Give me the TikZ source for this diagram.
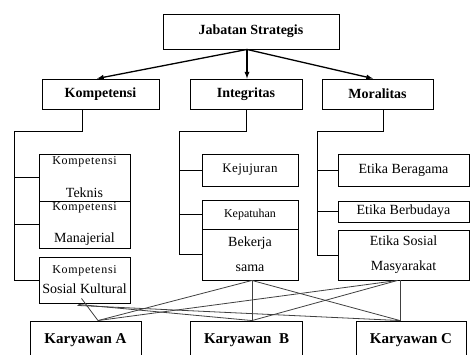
\documentclass[tikz,border=0pt]{standalone}
\usepackage{fontspec}
\setmainfont{Liberation Serif}
\newcommand\spkomp{{\addfontfeatures{LetterSpace=6}\fontsize{12}{14}\selectfont Kompetensi}}
\begin{document}
\begin{tikzpicture}[x=1pt,y=-1pt,>=latex,line width=0.9pt,
    box/.style={draw, inner sep=0pt, align=center, font=\fontsize{14}{25}\selectfont},
    head/.style={draw, inner sep=0pt, font=\bfseries\fontsize{14}{16}\selectfont},
    staff/.style={draw, inner sep=0pt, font=\bfseries\fontsize{15}{17}\selectfont},
    cross/.style={line width=0.8pt, black!75}]
\clip (0,0) rectangle (471,354);
% top
\node[head, minimum width=176pt, minimum height=35pt] (js) at (251,31.5) {Jabatan Strategis};
\node[head, minimum width=117pt, minimum height=30pt] (komp) at (100.5,94) {Kompetensi};
\node[head, minimum width=112pt, minimum height=30pt] (integ) at (246,94) {Integritas};
\node[head, minimum width=111pt, minimum height=30pt] (moral) at (377.5,94) {Moralitas};
\coordinate (top) at ([xshift=-4pt]js.south);
\draw[->, line width=1.3pt] (top) -- ([xshift=-3.5pt]komp.north);
\draw[->, line width=1.3pt] (top) -- ([xshift=1pt]integ.north);
\draw[->, line width=1.3pt] (top) -- ([xshift=-4.5pt]moral.north);
% kompetensi
\node[box, minimum width=91pt, minimum height=47pt] (teknis) at (84.5,177.5) {\spkomp\\[8pt]Teknis};
\node[box, minimum width=91pt, minimum height=47pt] (manaj) at (84.5,224.5) {\spkomp\\[7pt]Manajerial};
\node[box, minimum width=91pt, minimum height=46pt] (sosial) at (84.5,280) {\spkomp\\[-5pt]Sosial Kultural};
\coordinate (kl) at (14,131);
\draw ([xshift=-18.5pt]komp.south) |- (kl) |- (sosial.west);
\draw (kl |- teknis.west) -- (teknis.west);
\draw (kl |- manaj.west) -- (manaj.west);
% integritas
\node[box, minimum width=96pt, minimum height=32pt] (jujur) at (250,170) {{\addfontfeatures{LetterSpace=3}\fontsize{13}{15}\selectfont Kejujuran}};
\node[box, minimum width=96pt, minimum height=29pt, font=\fontsize{12}{14}\selectfont] (patuh) at (250,214.5) {\raisebox{3pt}{Kepatuhan}};
\node[box, minimum width=96pt, minimum height=51pt] (kerja) at (250,254.5) {Bekerja\\sama};
\coordinate (il) at (179,131);
\draw (integ.south) |- (il) |- (kerja.west);
\draw (il |- jujur.west) -- (jujur.west);
\draw (il |- patuh.west) -- (patuh.west);
% moralitas
\node[box, minimum width=131pt, minimum height=32pt] (agama) at (403.5,170) {Etika Beragama};
\node[box, minimum width=131pt, minimum height=21pt] (budaya) at (403.5,211.5) {Etika Berbudaya};
\node[box, minimum width=131pt, minimum height=50pt] (masy) at (403.5,255) {Etika Sosial\\Masyarakat};
\coordinate (ml) at (317,131);
\draw ([xshift=5.5pt]moral.south) |- (ml) |- (masy.west);
\draw (ml |- agama.west) -- (agama.west);
\draw (ml |- budaya.west) -- (budaya.west);
% karyawan
\node[staff, minimum width=111pt, minimum height=38pt] (ka) at (85.5,340) {Karyawan A};
\node[staff, minimum width=112pt, minimum height=38pt] (kb) at (246.5,340) {Karyawan\ \ B};
\node[staff, minimum width=110pt, minimum height=38pt] (kc) at (411,340) {Karyawan C};
\coordinate (sa) at ([xshift=12.5pt]ka.north);
\coordinate (sb) at ([xshift=5.5pt]kb.north);
\coordinate (sc) at ([xshift=-11pt]kc.north);
\draw[cross] ([xshift=-3pt,yshift=5pt]sosial.south) -- (sa);
\draw[cross] ([xshift=-6pt,yshift=-1pt]sosial.south) -- (sb);
\draw[cross] ([xshift=-7pt,yshift=-2pt]sosial.south) -- (sc);
\draw[cross] ([xshift=2pt]kerja.south) -- (sa);
\draw[cross] ([xshift=2pt]kerja.south) -- (sb);
\draw[cross] ([xshift=2pt]kerja.south) -- (sc);
\draw[cross] ([xshift=-6pt]masy.south) -- (sa);
\draw[cross] ([xshift=-6pt]masy.south) -- (sb);
\draw[cross] ([xshift=-3.5pt]masy.south) -- (sc);
\end{tikzpicture}
\end{document}
